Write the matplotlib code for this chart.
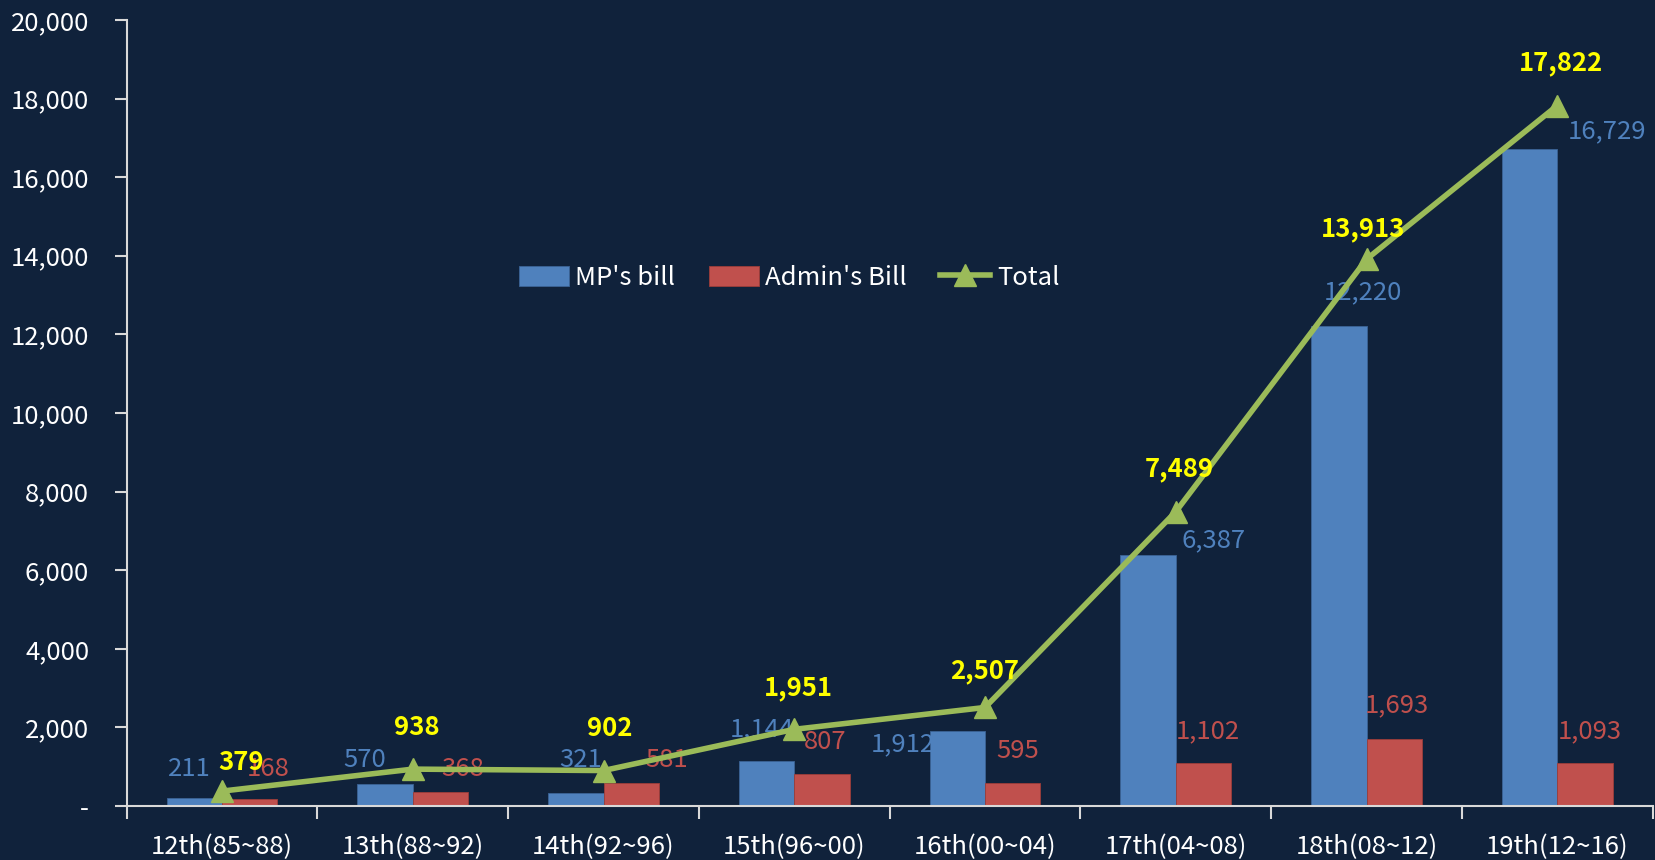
import numpy as np
import matplotlib.pyplot as plt

# data
sessions = ['12th(85~88)', '13th(88~92)', '14th(92~96)', '15th(96~00)',
            '16th(00~04)', '17th(04~08)', '18th(08~12)', '19th(12~16)']
mp_bill = [211, 570, 321, 1144, 1912, 6387, 12220, 16729]
admin_bill = [168, 368, 581, 807, 595, 1102, 1693, 1093]
total = [379, 938, 902, 1951, 2507, 7489, 13913, 17822]

# label placement (dx in categories, y in data units) - hand-tuned like the original
mp_lbl_dx = [-0.17, -0.25, -0.12, -0.17, -0.43, 0.2, -0.02, 0.26]
mp_lbl_y = [940, 1160, 1160, 1960, 1560, 6750, 13070, 17160]
ad_lbl_dx = [0.24, 0.26, 0.33, 0.16, 0.17, 0.17, 0.16, 0.17]
ad_lbl_y = [940, 940, 1160, 1640, 1400, 1910, 2555, 1910]
tot_lbl_dx = [0.1, 0.02, 0.03, 0.02, 0.0, 0.02, -0.02, 0.02]
tot_lbl_y = [1100, 1990, 1960, 3010, 3440, 8580, 14690, 18910]

BG = '#10223b'
BLUE = '#4f81bd'
RED = '#c0504d'
GREEN = '#9bbb59'
AXIS = '#d9d9d9'

plt.rcParams['font.family'] = ['Noto Sans CJK KR', 'DejaVu Sans']

fig = plt.figure(figsize=(16.56, 8.6), dpi=100, facecolor=BG)
ax = fig.add_axes([0.0765, 0.0628, 0.9215, 0.914])
ax.set_facecolor(BG)

x = np.arange(len(sessions))
w = 0.29
b1 = ax.bar(x - w / 2, mp_bill, w, color=BLUE, label="MP's bill", edgecolor='#3b6496', linewidth=0.6)
b2 = ax.bar(x + w / 2, admin_bill, w, color=RED, label="Admin's Bill", edgecolor='#9c3d3a', linewidth=0.6)
ln, = ax.plot(x, total, color=GREEN, linewidth=4, marker='^', markersize=16, label='Total', zorder=4)

for i in range(len(sessions)):
    ax.text(i + mp_lbl_dx[i], mp_lbl_y[i], f'{mp_bill[i]:,}', color=BLUE,
            ha='center', va='center', fontsize=18.5)
    ax.text(i + ad_lbl_dx[i], ad_lbl_y[i], f'{admin_bill[i]:,}', color=RED,
            ha='center', va='center', fontsize=18.5)
    ax.text(i + tot_lbl_dx[i], tot_lbl_y[i], f'{total[i]:,}', color='#ffff00',
            ha='center', va='center', fontsize=18.5, fontweight='bold', zorder=5)

ax.set_xlim(-0.5, 7.5)
ax.set_ylim(0, 20000)

yt = np.arange(0, 20001, 2000)
ax.set_yticks(yt)
ax.set_yticklabels(['-'] + [f'{v:,}' for v in yt[1:]])

ax.set_xticks(np.arange(-0.5, 8, 1))
ax.set_xticklabels([])
ax.set_xticks(x, minor=True)
ax.set_xticklabels(sessions, minor=True)
ax.tick_params(axis='x', which='major', length=9, width=1.5, color=AXIS)
ax.tick_params(axis='x', which='minor', length=0, pad=20, labelsize=18.5, labelcolor='white')
ax.tick_params(axis='y', length=9, width=1.5, color=AXIS, labelsize=18.5, labelcolor='white', pad=18)

for s in ['top', 'right']:
    ax.spines[s].set_visible(False)
for s in ['left', 'bottom']:
    ax.spines[s].set_color(AXIS)
    ax.spines[s].set_linewidth(1.5)

leg = ax.legend([b1, b2, ln], ["MP's bill", "Admin's Bill", 'Total'],
                loc='center', bbox_to_anchor=(0.434, 0.672), ncol=3, frameon=False,
                fontsize=18.5, labelcolor='white', handlelength=1.95, handleheight=0.8,
                columnspacing=1.3, handletextpad=0.25)

fig.savefig('out.png', dpi=100, facecolor=BG)
